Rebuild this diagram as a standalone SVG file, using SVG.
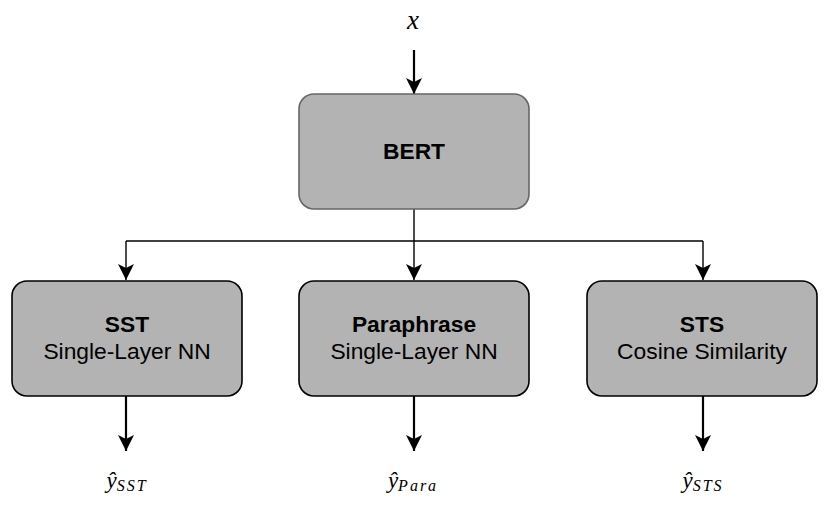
<svg xmlns="http://www.w3.org/2000/svg" width="832" height="514" viewBox="0 0 832 514">
<style>
.box{fill:#b3b3b3;stroke:#000;stroke-width:1.6}
.bert{fill:#b3b3b3;stroke:#666;stroke-width:1.6}
.t{font-family:"Liberation Sans",Arial,sans-serif;font-size:22.8px;fill:#000;text-anchor:middle}
.b{font-weight:bold}
.m{font-family:"Liberation Serif","Times New Roman",serif;font-style:italic;fill:#000}
.sub{font-size:16px;letter-spacing:2px}
.thick{stroke:#000;stroke-width:2.2;fill:none}
.thin{stroke:#000;stroke-width:1.4;fill:none}
</style>
<defs>
<marker id="ah" viewBox="0 0 16 16" refX="16" refY="8" markerWidth="16" markerHeight="16" markerUnits="userSpaceOnUse" orient="auto">
<path d="M0,0 L16,8 L0,16 L4,8 Z" fill="#000"/>
</marker>
</defs>
<g id="connectors">
<line class="thick" x1="414" y1="50" x2="414" y2="94" marker-end="url(#ah)"/>
<polyline class="thin" points="414,209 414,241"/>
<line class="thin" x1="126" y1="241" x2="703" y2="241"/>
<line class="thin" x1="126" y1="241" x2="126" y2="280" marker-end="url(#ah)"/>
<line class="thin" x1="414" y1="241" x2="414" y2="280" marker-end="url(#ah)"/>
<line class="thin" x1="703" y1="241" x2="703" y2="280" marker-end="url(#ah)"/>
<line class="thick" x1="126" y1="396" x2="126" y2="451" marker-end="url(#ah)"/>
<line class="thick" x1="414" y1="396" x2="414" y2="451" marker-end="url(#ah)"/>
<line class="thick" x1="703" y1="396" x2="703" y2="451" marker-end="url(#ah)"/>
</g>
<g id="input"><text class="m" x="413" y="29" font-size="27" text-anchor="middle">x</text></g>
<g id="bert">
<rect class="bert" x="299" y="94" width="230" height="115" rx="15"/>
<text class="t b" x="414" y="159">BERT</text>
</g>
<g id="sst">
<rect class="box" x="12" y="281" width="230" height="115" rx="15"/>
<text class="t b" x="127" y="332">SST</text>
<text class="t" x="127" y="359">Single-Layer NN</text>
</g>
<g id="paraphrase">
<rect class="box" x="299" y="281" width="230" height="115" rx="15"/>
<text class="t b" x="414" y="332">Paraphrase</text>
<text class="t" x="414" y="359">Single-Layer NN</text>
</g>
<g id="sts">
<rect class="box" x="587" y="281" width="230" height="115" rx="15"/>
<text class="t b" x="702" y="332">STS</text>
<text class="t" x="702" y="359">Cosine Similarity</text>
</g>
<g id="out-sst"><text class="m" x="127" y="488" font-size="23" text-anchor="middle">ŷ<tspan class="sub" dy="3">SST</tspan></text></g>
<g id="out-para"><text class="m" x="413" y="488" font-size="23" text-anchor="middle">ŷ<tspan class="sub" dy="3">Para</tspan></text></g>
<g id="out-sts"><text class="m" x="703" y="488" font-size="23" text-anchor="middle">ŷ<tspan class="sub" dy="3">STS</tspan></text></g>
</svg>
